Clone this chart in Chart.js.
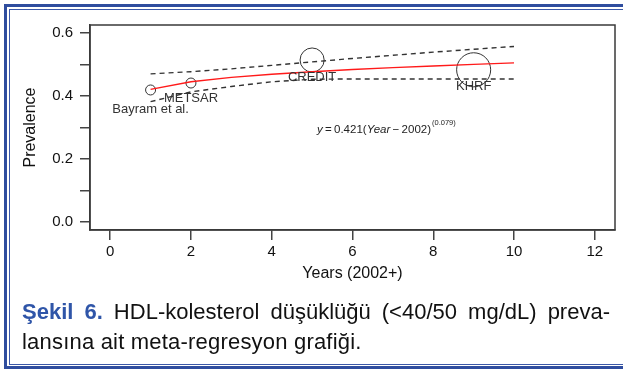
<!DOCTYPE html>
<html><head><meta charset="utf-8">
<script src="https://cdn.jsdelivr.net/npm/chart.js@4/dist/chart.umd.min.js"></script>
<style>
html,body{margin:0;padding:0;background:#fff;}
#wrap{position:relative;width:623px;height:370px;overflow:hidden;background:#fff;}
canvas{position:absolute;left:0;top:0;}
.b1{position:absolute;left:4px;top:4px;width:700px;height:365px;border:3px solid #2f4d9e;border-right:none;box-sizing:border-box;}
.b2{position:absolute;left:9px;top:9px;width:700px;height:356px;border:1px solid #3b58a8;border-right:none;box-sizing:border-box;}
.cap{position:absolute;left:22px;width:588px;font-family:"Liberation Sans",Arial,sans-serif;font-size:22px;line-height:30px;color:#111;white-space:nowrap;}
.l1{top:297px;text-align:justify;text-align-last:justify;white-space:normal;}
.l2{top:327px;text-align:left;letter-spacing:0.2px;}
.cap b{color:#2f55a8;}
</style></head>
<body>
<div id="wrap">
<canvas id="c" width="623" height="370"></canvas>
<div class="b1"></div><div class="b2"></div>
<div class="cap l1"><b>Şekil 6.</b> HDL-kolesterol düşüklüğü (&lt;40/50 mg/dL) preva-</div>
<div class="cap l2">lansına ait meta-regresyon grafiği.</div>
</div>
<script>
const studies = ['Bayram et al.', 'METSAR', 'CREDIT', 'KHRF'];
const studyYear = [1, 2, 5, 9];
const studyPrev = [0.419, 0.441, 0.514, 0.483];
const studyWeight = [1, 1, 5.8, 11.6];
const fitYear = [1, 2, 3, 4, 5, 6, 7, 8, 9, 10];
const fitPrev = [0.421, 0.445, 0.459, 0.469, 0.477, 0.484, 0.490, 0.495, 0.500, 0.505];
const ciUpper = [0.470, 0.477, 0.486, 0.497, 0.508, 0.519, 0.529, 0.539, 0.548, 0.557];
const ciLower = [0.382, 0.413, 0.430, 0.445, 0.453, 0.454, 0.454, 0.454, 0.454, 0.454];
const xTicks = [0, 2, 4, 6, 8, 10, 12];
const yTicks = [0, 0.1, 0.2, 0.3, 0.4, 0.5, 0.6];
const yTickLabels = ['0.0', '', '0.2', '', '0.4', '', '0.6'];

const FONT = '"Liberation Sans", Arial, Helvetica, sans-serif';
Chart.defaults.font.family = FONT;
Chart.defaults.color = '#111';

const pts = (xs, ys) => xs.map((x, i) => ({x: x, y: ys[i]}));

const decor = {
  id: 'decor',
  afterDatasetsDraw(chart) {
    const {ctx, chartArea: a, scales: {x, y}} = chart;
    ctx.save();
    ctx.strokeStyle = '#3a3a3a';
    ctx.lineWidth = 1.5;
    ctx.strokeRect(a.left, a.top, a.right - a.left, a.bottom - a.top);
    // study labels
    ctx.fillStyle = '#333';
    ctx.font = '13px ' + FONT;
    ctx.textAlign = 'center';
    ctx.textBaseline = 'middle';
    studies.forEach((s, i) => {
      const dy = i === 0 ? 19 : (i === 1 ? 15 : 17);
      ctx.fillText(s, x.getPixelForValue(studyYear[i]), y.getPixelForValue(studyPrev[i]) + dy);
    });
    // equation
    let px = x.getPixelForValue(5.12), py = y.getPixelForValue(0.284);
    ctx.textAlign = 'left';
    ctx.textBaseline = 'alphabetic';
    ctx.fillStyle = '#222';
    const parts = [['y', true], ['\u2009=\u20090.421(', false], ['Year', true], ['\u2009\u2212\u20092002)', false]];
    parts.forEach(([t, it]) => {
      ctx.font = (it ? 'italic ' : '') + '11.5px ' + FONT;
      ctx.fillText(t, px, py);
      px += ctx.measureText(t).width;
    });
    ctx.font = '7.5px ' + FONT;
    ctx.fillText('(0.079)', px + 1, py - 8);
    ctx.restore();
  }
};

new Chart(document.getElementById('c'), {
  type: 'scatter',
  data: {
    datasets: [
      {type: 'line', data: pts(fitYear, ciUpper), borderColor: '#333', borderWidth: 1.4, borderDash: [5, 4], pointRadius: 0, fill: false},
      {type: 'line', data: pts(fitYear, ciLower), borderColor: '#333', borderWidth: 1.4, borderDash: [5, 4], pointRadius: 0, fill: false},
      {type: 'line', data: pts(fitYear, fitPrev), borderColor: '#ff1a1a', borderWidth: 1.4, pointRadius: 0, fill: false},
      {type: 'scatter', data: pts(studyYear, studyPrev), pointRadius: studyWeight.map(w => 5 * Math.sqrt(w)),
       pointBackgroundColor: 'rgba(0,0,0,0)', pointBorderColor: '#333', pointBorderWidth: 1}
    ]
  },
  options: {
    responsive: false,
    animation: false,
    devicePixelRatio: 1,
    layout: {autoPadding: false, padding: {left: 0, top: 25, right: 8, bottom: 80}},
    plugins: {legend: {display: false}, tooltip: {enabled: false}},
    scales: {
      x: {
        type: 'linear', min: -0.5, max: 12.5,
        afterBuildTicks: s => { s.ticks = xTicks.map(v => ({value: v})); },
        afterFit: s => { s.height = 60; s.paddingLeft = 0; s.paddingRight = 0; },
        ticks: {font: {size: 15}, color: '#111', padding: 3, callback: v => String(v), maxRotation: 0},
        grid: {drawOnChartArea: false, drawTicks: true, tickLength: 10, color: '#444', lineWidth: 1.5},
        border: {display: true, color: '#3a3a3a', width: 1.5},
        title: {display: true, text: 'Years (2002+)', font: {size: 16}, color: '#111', padding: {top: 0, bottom: 7}}
      },
      y: {
        type: 'linear', min: -0.025, max: 0.625,
        afterBuildTicks: s => { s.ticks = yTicks.map(v => ({value: v})); },
        afterFit: s => { s.width = 90; s.paddingTop = 0; s.paddingBottom = 0; },
        ticks: {font: {size: 15}, color: '#111', padding: 7,
                callback: (v, i) => yTickLabels[i]},
        grid: {drawOnChartArea: false, drawTicks: true, tickLength: 10, color: '#444', lineWidth: 1.5},
        border: {display: true, color: '#3a3a3a', width: 1.5},
        title: {display: true, text: 'Prevalence', font: {size: 16}, color: '#111', padding: {top: 21, bottom: 0}}
      }
    }
  },
  plugins: [decor]
});
</script>
</body></html>
